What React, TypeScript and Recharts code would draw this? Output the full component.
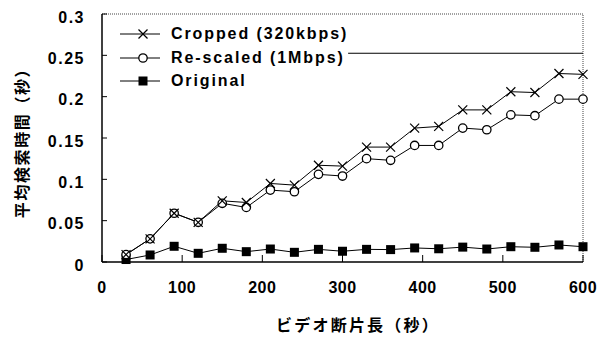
import React from 'react';
import { LineChart, Line, XAxis, YAxis, ReferenceLine, Legend, Customized } from 'recharts';

const xValues = [30, 60, 90, 120, 150, 180, 210, 240, 270, 300, 330, 360, 390, 420, 450, 480, 510, 540, 570, 600];
const cropped = [0.009, 0.028, 0.059, 0.048, 0.074, 0.072, 0.095, 0.093, 0.117, 0.116, 0.139, 0.139, 0.162, 0.164, 0.184, 0.184, 0.206, 0.205, 0.228, 0.227];
const rescaled = [0.009, 0.028, 0.059, 0.048, 0.071, 0.066, 0.087, 0.085, 0.106, 0.104, 0.125, 0.123, 0.141, 0.141, 0.162, 0.160, 0.178, 0.177, 0.197, 0.197];
const original = [0.003, 0.0085, 0.019, 0.0105, 0.0166, 0.0125, 0.0157, 0.0117, 0.0153, 0.013, 0.0153, 0.015, 0.017, 0.016, 0.018, 0.0157, 0.0185, 0.0178, 0.0206, 0.0185];
const xTicks = [0, 100, 200, 300, 400, 500, 600];
const yTicks = [0, 0.05, 0.1, 0.15, 0.2, 0.25, 0.3];
const seriesNames = ['Cropped (320kbps)', 'Re-scaled (1Mbps)', 'Original'];
const xTitle = 'ビデオ断片長（秒）';
const yTitle = '平均検索時間（秒）';
const strayLine = { x1: 307, x2: 600, y: 0.2525 };

const data = xValues.map((x, i) => ({ x, cropped: cropped[i], rescaled: rescaled[i], original: original[i] }));

const NUM_FONT = '"Liberation Sans", Arial, sans-serif';
const JP_FONT = '"Noto Sans CJK JP", sans-serif';

const CrossDot = (props: any) => {
  const { cx, cy } = props;
  if (cx == null || cy == null) return null;
  const s = 4.5;
  return (
    <g>
      <line x1={cx - s} y1={cy - s} x2={cx + s} y2={cy + s} stroke="#000" strokeWidth={1.2} />
      <line x1={cx - s} y1={cy + s} x2={cx + s} y2={cy - s} stroke="#000" strokeWidth={1.2} />
    </g>
  );
};
const CircleDot = (props: any) => {
  const { cx, cy } = props;
  if (cx == null || cy == null) return null;
  return <circle cx={cx} cy={cy} r={4.2} fill="#fff" stroke="#000" strokeWidth={1.3} />;
};
const SquareDot = (props: any) => {
  const { cx, cy } = props;
  if (cx == null || cy == null) return null;
  return <rect x={cx - 4.5} y={cy - 4.5} width={9} height={9} fill="#000" />;
};

const LegendContent = () => {
  const markers = [
    (cx: number, cy: number) => <CrossDot cx={cx} cy={cy} />,
    (cx: number, cy: number) => <CircleDot cx={cx} cy={cy} />,
    (cx: number, cy: number) => <SquareDot cx={cx} cy={cy} />,
  ];
  return (
    <div style={{ position: 'relative' }}>
      {seriesNames.map((name, i) => (
        <div key={name} style={{ display: 'flex', alignItems: 'center', height: [25, 23, 23][i] }}>
          <svg width={51} height={16}>
            <line x1={0} y1={8} x2={40} y2={8} stroke="#000" strokeWidth={1} />
            {markers[i](23, 8)}
          </svg>
          <span style={{ fontFamily: NUM_FONT, fontSize: 16, fontWeight: 700, color: '#000', letterSpacing: 1.9, whiteSpace: 'pre' }}>{name}</span>
        </div>
      ))}
    </div>
  );
};

const Titles = () => (
  <g>
    <text x={358} y={331} textAnchor="middle" fontFamily={JP_FONT} fontWeight={700} fontSize={16} letterSpacing={2.2} fill="#000">{xTitle}</text>
    <text x={0} y={0} transform="translate(28,139) rotate(-90)" textAnchor="middle" fontFamily={JP_FONT} fontWeight={700} fontSize={16} letterSpacing={1.6} fill="#000">{yTitle}</text>
  </g>
);

export default function App() {
  return (
    <div style={{ position: 'absolute', left: 0, top: 0, width: 600, height: 338, background: '#fff' }}>
      <LineChart width={600} height={338} data={data} margin={{ top: 14, right: 17, left: 22, bottom: 0 }}>
        <XAxis
          dataKey="x"
          type="number"
          domain={[0, 600]}
          ticks={xTicks}
          height={76}
          axisLine={{ stroke: '#000', strokeWidth: 1.5 }}
          tickLine={{ stroke: '#000', strokeWidth: 1 }}
          tickSize={-7}
          tickMargin={27}
          tick={{ fill: '#000', fontSize: 16, fontFamily: NUM_FONT, fontWeight: 700, letterSpacing: 0.5 }}
        />
        <YAxis
          type="number"
          domain={[0, 0.3]}
          ticks={yTicks}
          width={80}
          axisLine={{ stroke: '#000', strokeWidth: 1.5 }}
          tickLine={{ stroke: '#000', strokeWidth: 1 }}
          tickSize={-5}
          tickMargin={22}
          tickFormatter={(v: number) => String(v)}
          tick={{ fill: '#000', fontSize: 16, fontFamily: NUM_FONT, fontWeight: 700, letterSpacing: 1.5, dy: 3 }}
        />
        <ReferenceLine y={0.3} stroke="#444" strokeDasharray="1 1" />
        <ReferenceLine x={600} stroke="#444" strokeDasharray="1 1" />
        <ReferenceLine segment={[{ x: strayLine.x1, y: strayLine.y }, { x: strayLine.x2, y: strayLine.y }]} stroke="#000" strokeWidth={1.2} />
        <Line dataKey="original" stroke="#000" strokeWidth={1} dot={<SquareDot />} isAnimationActive={false} />
        <Line dataKey="rescaled" stroke="#000" strokeWidth={1} dot={<CircleDot />} isAnimationActive={false} />
        <Line dataKey="cropped" stroke="#000" strokeWidth={1} dot={<CrossDot />} isAnimationActive={false} />
        <Legend
          layout="vertical"
          align="center"
          verticalAlign="middle"
          content={<LegendContent />}
          wrapperStyle={{ left: 120, top: 21, width: 260 }}
        />
        <Customized component={<Titles />} />
      </LineChart>
    </div>
  );
}
